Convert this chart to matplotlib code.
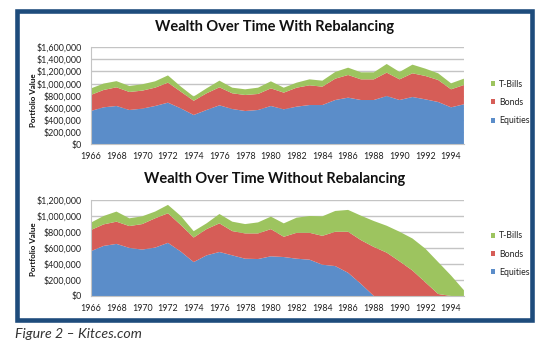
import matplotlib
matplotlib.use("Agg")
import matplotlib.pyplot as plt
from matplotlib.patches import Rectangle
from matplotlib.ticker import FuncFormatter, MultipleLocator

years = list(range(1966, 1996))

# With rebalancing (thousands of $)
reb_equities = [546, 607, 629, 563, 585, 629, 684, 590, 480, 563, 640, 579, 546, 563, 629,
                574, 618, 645, 645, 728, 767, 728, 728, 794, 728, 778, 739, 695, 607, 657]
reb_bonds = [265, 287, 309, 298, 298, 303, 331, 276, 235, 276, 298, 260, 265, 265, 292,
             276, 314, 326, 304, 353, 375, 342, 342, 387, 342, 392, 387, 364, 298, 319]
reb_tbills = [107, 106, 102, 99, 105, 105, 120, 84, 70, 82, 110, 93, 94, 104, 116,
              82, 83, 99, 99, 111, 121, 116, 116, 143, 122, 143, 121, 111, 99, 105]

# Without rebalancing (thousands of $)
nor_equities = [559, 626, 651, 601, 580, 605, 664, 555, 424, 508, 550, 508, 466, 462, 496,
                487, 466, 454, 391, 374, 290, 151, 0, 0, 0, 0, 0, 0, 0, 0]
nor_bonds = [265, 269, 278, 273, 319, 366, 370, 332, 307, 328, 358, 303, 316, 320, 340,
             253, 324, 336, 361, 429, 513, 547, 613, 542, 433, 319, 172, 25, 0, 0]
nor_tbills = [92, 105, 126, 97, 97, 84, 105, 113, 79, 72, 117, 118, 117, 138, 156,
              168, 189, 210, 244, 260, 273, 306, 324, 336, 370, 400, 420, 399, 256, 72]

series_names = ["Equities", "Bonds", "T-Bills"]
colors = ["#5B8DC9", "#D65D57", "#9DC45F"]
titles = ["Wealth Over Time With Rebalancing", "Wealth Over Time Without Rebalancing"]
ylabel = "Portfolio Value"
caption = "Figure 2 \u2013 Kitces.com"
xtick_years = list(range(1966, 1995, 2))

FONT = "Lato"

fig = plt.figure(figsize=(5.5, 3.57), dpi=100)
fig.patch.set_facecolor("white")

# Outer navy frame
fig.patches.append(Rectangle((0.030, 0.105), 0.9364, 0.8628, transform=fig.transFigure,
                             fill=False, edgecolor="#1E4C7C", linewidth=3.3))

def money(v, pos):
    return "${:,.0f}".format(v * 1000)

def draw(rect, data, title, ymax, title_y, ylab_y, leg_y):
    ax = fig.add_axes(rect)
    polys = ax.stackplot(years, *data, colors=colors, linewidth=0, labels=series_names)
    ax.set_xlim(1966, 1995)
    ax.set_ylim(0, ymax)
    ax.yaxis.set_major_locator(MultipleLocator(200))
    ax.yaxis.set_major_formatter(FuncFormatter(money))
    ax.set_xticks(xtick_years)
    ax.set_xticklabels([str(y) for y in xtick_years])
    ax.grid(axis="y", color="#C4C4C4", linewidth=1.0)
    ax.set_axisbelow(True)
    for s in ["top", "right"]:
        ax.spines[s].set_visible(False)
    for s in ["left", "bottom"]:
        ax.spines[s].set_color("#C4C4C4")
        ax.spines[s].set_linewidth(0.8)
    ax.tick_params(length=0, labelsize=6.4, colors="#222222")
    ax.tick_params(axis="y", pad=6.5)
    ax.tick_params(axis="x", pad=5.5)
    for lab in ax.get_xticklabels() + ax.get_yticklabels():
        lab.set_fontfamily(FONT)
    fig.text(0.5, title_y, title, ha="center", va="center", fontsize=10.5,
             fontweight="bold", family=FONT, color="#111111")
    fig.text(0.06, ylab_y, ylabel, ha="center", va="center", rotation=90,
             fontsize=5.8, fontweight="bold", family=FONT, color="#111111")
    handles = list(reversed(polys))
    labels = list(reversed(series_names))
    leg = fig.legend(handles, labels, loc="center left", bbox_to_anchor=(0.884, leg_y),
                     frameon=False, prop={"family": FONT, "size": 6.3},
                     handlelength=0.5, handleheight=0.5, handletextpad=0.45,
                     labelspacing=1.05, borderpad=0)
    for t in leg.get_texts():
        t.set_color("#222222")
    return ax

draw([0.165, 0.5966, 0.6785, 0.2709], [reb_equities, reb_bonds, reb_tbills],
     titles[0], 1600, 0.924, 0.72, 0.713)
draw([0.165, 0.1709, 0.6785, 0.2689], [nor_equities, nor_bonds, nor_tbills],
     titles[1], 1200, 0.498, 0.3025, 0.2885)

fig.text(0.027, 0.0644, caption, ha="left", va="center", fontsize=10.2,
         style="italic", family=FONT, color="#333333")

fig.savefig("out.png", dpi=100)
